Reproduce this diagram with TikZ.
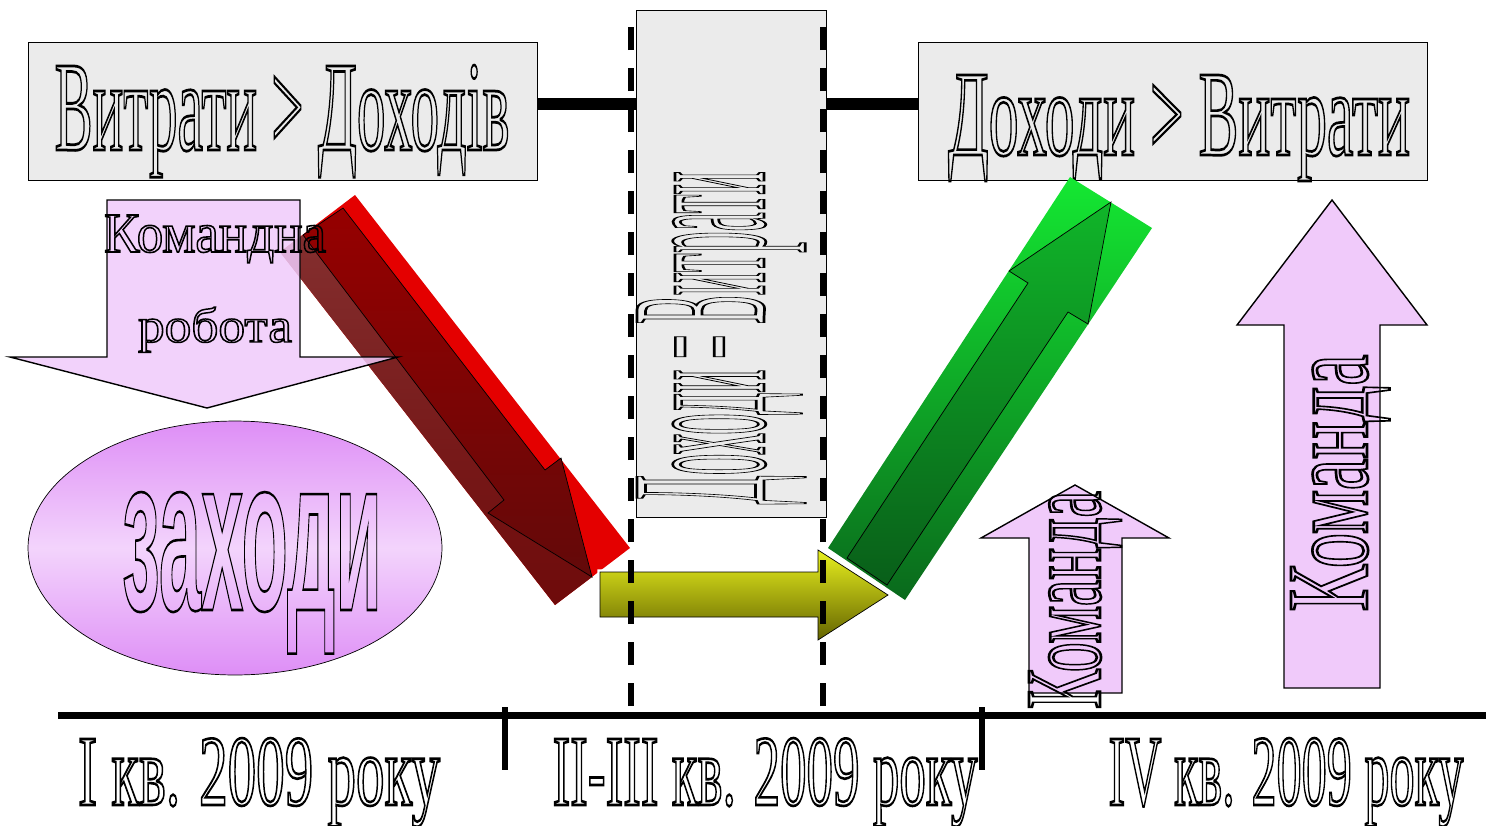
\documentclass[tikz,border=0pt]{standalone}
\usepackage{fontspec}
\setmainfont{Liberation Serif}
\newfontfamily\boldsans{Liberation Sans}
\usepackage{graphicx}
\usetikzlibrary{shapes.geometric}

\definecolor{boxgray}{RGB}{235,235,235}
\definecolor{lilac}{RGB}{240,202,250}
\definecolor{orchid}{RGB}{222,142,246}
\definecolor{orchidlight}{RGB}{243,212,252}
\definecolor{redbright}{RGB}{228,0,0}
\definecolor{redmid}{RGB}{150,0,0}
\definecolor{reddark}{RGB}{110,10,10}
\definecolor{greenbright}{RGB}{20,232,50}
\definecolor{greendark}{RGB}{10,105,28}
\definecolor{olivelight}{RGB}{232,240,30}
\definecolor{olivedark}{RGB}{100,100,0}

\newcommand{\hollow}[5][1.5]{\resizebox{#3}{#4}{\fontsize{#2}{#2}\selectfont\special{pdf:literal direct 1 Tr #1 w}#5\special{pdf:literal direct 0 Tr}}}

\tikzstyle{graybox} = [draw, fill=boxgray, inner sep=0pt]
\tikzstyle{link} = [draw, line width=6.5pt]
\tikzstyle{period} = [draw, line width=3.7pt, dash pattern=on 0.46cm off 0.36cm]
\tikzstyle{lilacarrow} = [draw, fill=lilac, thick]

\begin{document}
\begin{tikzpicture}[x=0.02cm,y=-0.02cm]
\useasboundingbox (0,0) rectangle (1486,825);
\coordinate (lnk) at (0,104);
\node[graybox, minimum width=10.18cm, minimum height=2.76cm] (loss) at (282.5,111) {};
\node[graybox, minimum width=10.18cm, minimum height=2.76cm] (gain) at (1172.5,111) {};
\node[graybox, minimum width=3.8cm, minimum height=10.14cm] (even) at (731,263.5) {};
\draw[link] (loss.east |- lnk) -- (even.west |- lnk);
\draw[link] (even.east |- lnk) -- (gain.west |- lnk);
\node[anchor=base] (losstxt) at (282,150) {\hollow{70pt}{9.1cm}{1.7cm}{Витрати > Доходів}};
\node[anchor=base] (gaintxt) at (1179,155) {\hollow{68pt}{9.24cm}{1.6cm}{Доходи > Витрати}};
\node[anchor=base, rotate=90] (eventxt) at (764,338) {\hollow{108pt}{6.66cm}{2.54cm}{Доходи = Витрати}};

\fill[redbright] (355,195) -- (630,548) -- (555,605) -- (280,252) -- cycle;
\shade[top color=reddark!85, bottom color=reddark] (280,252) -- (303,235) -- (504,500) -- (488,513) -- (592,577) -- (555,605) -- cycle;
\shade[top color=redmid, bottom color=reddark!90!black, draw] (343,208) -- (545,470) -- (561,458) -- (592,577) -- (488,513) -- (504,500) -- (303,235) -- cycle;

\filldraw[lilacarrow, fill opacity=0.85] (107,200) -- (300,200) -- (300,357) -- (398,357) -- (207,408) -- (10,357) -- (107,357) -- cycle;
\node[anchor=base] (teamwork1) at (215,252) {\hollow[0.9]{32pt}{4.44cm}{0.74cm}{Командна}};
\node[anchor=base] (teamwork2) at (215,342) {\hollow[0.9]{30pt}{3.08cm}{0.7cm}{робота}};

\node[ellipse, draw, inner sep=0pt, minimum width=8.28cm, minimum height=5.08cm, top color=orchid, bottom color=orchid, middle color=orchidlight] (steps) at (235,548) {};
\node[anchor=base] (stepstxt) at (252,610) {\hollow{126pt}{5.2cm}{2.36cm}{\boldsans\bfseries заходи}};

\shade[top color=greenbright, bottom color=greendark] (1070,177) -- (1152,228) -- (905,600) -- (828,548) -- cycle;
\shade[top color=greenbright!60!greendark, bottom color=greendark!90!black, draw] (887,585) -- (1068,312) -- (1088,324) -- (1111,202) -- (1009,271) -- (1028,283) -- (847,558) -- cycle;

\shade[top color=olivelight, bottom color=olivedark, draw, preaction={draw=white, line width=3pt}] (600,572) -- (818,572) -- (818,550) -- (888,595) -- (818,640) -- (818,617) -- (600,617) -- cycle;

\filldraw[lilacarrow] (1029,693) -- (1029,538) -- (981,538) -- (1075,485) -- (1169,538) -- (1122,538) -- (1122,693) -- cycle;
\node[anchor=base, rotate=90] (team1) at (1100,600) {\hollow{61pt}{4.36cm}{1.42cm}{Команда}};
\filldraw[lilacarrow] (1284,688) -- (1284,325) -- (1237,325) -- (1332,200) -- (1427,325) -- (1380,325) -- (1380,688) -- cycle;
\node[anchor=base, rotate=90] (team2) at (1367,483) {\hollow{65pt}{5.14cm}{1.52cm}{Команда}};

\draw[period] (631,706) -- (631,12);
\draw[period] (823,706) -- (823,12);

\draw[line width=4pt] (58,715) -- (1486,715);
\draw[line width=3.2pt] (505,707) -- (505,770);
\draw[line width=3.2pt] (982,707) -- (982,770);
\node[anchor=base] (q1) at (259,805) {\hollow{58pt}{7.24cm}{1.34cm}{I кв. 2009 року}};
\node[anchor=base] (q23) at (765,805) {\hollow{58pt}{8.5cm}{1.34cm}{II-III кв. 2009 року}};
\node[anchor=base] (q4) at (1286,805) {\hollow{58pt}{7.1cm}{1.34cm}{IV кв. 2009 року}};
\end{tikzpicture}
\end{document}
